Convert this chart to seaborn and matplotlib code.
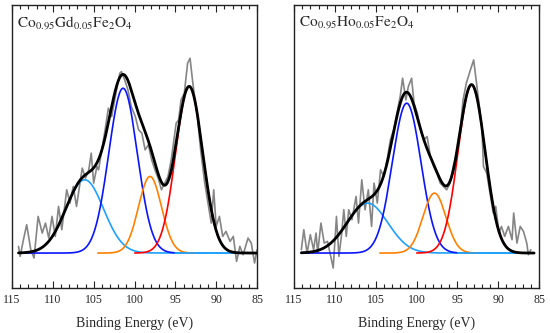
import numpy as np
import pandas as pd
import matplotlib
matplotlib.use("Agg")
import matplotlib.pyplot as plt
import seaborn as sns
from matplotlib.ticker import MultipleLocator

# ---- data ----
# measured spectra (gray), binding energy (eV) and normalised intensity
gd_energy = [114.2, 114.0, 113.6, 113.2, 112.7, 112.3, 111.8, 111.3, 110.9, 110.5,
             110.1, 109.7, 109.3, 108.9, 108.3, 107.9, 107.5, 107.1, 106.4, 106.0,
             105.6, 105.3, 105.0, 104.6, 104.4, 104.0, 103.6, 103.2, 102.8, 102.2,
             101.8, 101.6, 101.2, 100.8, 100.4, 99.9, 99.5, 99.1, 98.7, 98.3,
             97.9, 97.5, 97.1, 96.7, 96.3, 95.9, 95.5, 94.9, 94.6, 94.3,
             93.9, 93.5, 93.2, 92.9, 92.7, 92.3, 91.9, 91.4, 91.0, 90.6,
             90.3, 90.0, 89.6, 89.2, 88.8, 88.3, 87.9, 87.5, 87.1, 86.7,
             86.1, 85.7, 85.3, 85.0]
gd_counts = [0.04, -0.02, 0.08, 0.17, 0.02, -0.03, 0.22, 0.12, 0.18, 0.09,
             0.22, 0.10, 0.28, 0.14, 0.38, 0.30, 0.40, 0.28, 0.51, 0.45,
             0.50, 0.60, 0.42, 0.52, 0.50, 0.62, 0.74, 0.87, 0.82, 0.98,
             1.08, 1.09, 1.04, 0.98, 0.88, 0.82, 0.74, 0.72, 0.62, 0.65,
             0.56, 0.50, 0.45, 0.38, 0.42, 0.46, 0.56, 0.78, 0.80, 0.92,
             0.96, 1.14, 1.17, 1.04, 0.96, 0.82, 0.62, 0.42, 0.30, 0.18,
             0.38, 0.16, 0.22, 0.10, 0.13, 0.07, 0.10, -0.05, 0.04, -0.01,
             0.09, 0.06, -0.06, 0.02]

ho_energy = [114.1, 113.8, 113.4, 113.0, 112.6, 112.3, 112.1, 111.7, 111.3, 110.9,
             110.5, 110.2, 109.8, 109.5, 109.2, 108.9, 108.6, 108.3, 107.9, 107.4,
             107.1, 106.7, 106.3, 105.9, 105.5, 105.2, 104.8, 104.4, 104.0, 103.6,
             103.2, 102.8, 102.4, 102.0, 101.7, 101.3, 101.0, 100.6, 100.3, 99.9,
             99.5, 99.1, 98.7, 98.3, 97.9, 97.5, 97.1, 96.7, 96.3, 95.9,
             95.5, 95.0, 94.6, 94.3, 93.9, 93.4, 93.0, 92.7, 92.4, 92.0,
             91.8, 91.4, 91.0, 90.6, 90.3, 89.9, 89.6, 89.2, 88.75, 88.3,
             88.1, 87.7, 87.3, 86.9, 86.5, 86.3, 86.0]
ho_counts = [0.02, 0.14, 0.00, 0.11, 0.02, 0.12, 0.00, 0.18, 0.06, 0.07,
             -0.02, -0.09, 0.22, -0.02, 0.10, 0.26, 0.10, 0.26, 0.20, 0.34,
             0.18, 0.44, 0.26, 0.38, 0.16, 0.42, 0.30, 0.50, 0.46, 0.56,
             0.68, 0.74, 0.84, 0.94, 1.05, 0.92, 1.00, 1.05, 0.90, 0.84,
             0.74, 0.68, 0.70, 0.58, 0.52, 0.48, 0.42, 0.40, 0.38, 0.42,
             0.52, 0.62, 0.76, 0.92, 1.02, 1.10, 1.16, 1.04, 0.92, 0.76,
             0.52, 0.48, 0.36, 0.24, 0.28, 0.12, 0.16, 0.10, 0.16, 0.08,
             0.24, 0.06, 0.16, 0.13, 0.06, -0.01, 0.02]

# fitted components: light blue, blue, orange, red
gd_centers = [106.1, 101.4, 98.1, 93.3]
gd_heights = [0.44, 0.99, 0.46, 1.00]
gd_widths = [2.3, 1.75, 1.4, 1.65]

ho_centers = [106.0, 101.2, 97.8, 93.25]
ho_heights = [0.30, 0.90, 0.36, 1.01]
ho_widths = [2.5, 1.75, 1.4, 1.65]

comp_colors = ['#1ea0ff', '#0a14ff', '#ff8000', '#ff0000']

sns.set_style("ticks")
plt.rcParams['font.family'] = ['Liberation Serif', 'DejaVu Serif']
plt.rcParams['mathtext.fontset'] = 'stix'

fig = plt.figure(figsize=(5.5, 3.33), dpi=100)
ax1 = fig.add_axes([12 / 550, 45 / 333, 245 / 550, 283 / 333])
ax2 = fig.add_axes([294 / 550, 45 / 333, 245 / 550, 283 / 333])


def gauss(e, c, h, w):
    return h * np.exp(-(e - c) ** 2 / (2 * w ** 2))


def draw_panel(ax, energy, counts, centers, heights, widths, e_lo, e_hi, title):
    raw = pd.DataFrame({'E': energy, 'I': counts})
    sns.lineplot(data=raw, x='E', y='I', color='#858585', lw=1.2, ax=ax,
                 sort=False, zorder=1)

    grid = np.linspace(e_hi, e_lo, 600)
    comps = [gauss(grid, c, h, w) for c, h, w in zip(centers, heights, widths)]
    total = np.sum(comps, axis=0)

    # windows so the baseline colours come out like the original
    windows = [(e_lo, e_hi), (95.0, e_hi), (92.5, 104.5), (e_lo, 100.0)]
    for k, (lo, hi) in enumerate(windows):
        m = (grid >= lo) & (grid <= hi)
        sns.lineplot(x=grid[m], y=comps[k][m], color=comp_colors[k], lw=1.2,
                     ax=ax, zorder=2 + k)
    m = grid <= 95.0
    sns.lineplot(x=grid[m], y=comps[0][m], color=comp_colors[0], lw=1.2,
                 ax=ax, zorder=6)

    sns.lineplot(x=grid, y=total, color='black', lw=2.0, ax=ax, zorder=7)

    ax.set_xlim(115, 85)
    ax.set_ylim(-0.21, 1.49)
    ax.set_yticks([])
    ax.set_ylabel('')
    ax.xaxis.set_major_locator(MultipleLocator(5))
    ax.xaxis.set_minor_locator(MultipleLocator(1))
    ax.tick_params(axis='x', which='both', direction='in', top=True,
                   labelsize=8.5, pad=4, color='#222222')
    ax.tick_params(axis='x', which='major', length=5, width=0.8)
    ax.tick_params(axis='x', which='minor', length=3, width=0.8)
    for s in ax.spines.values():
        s.set_color('#222222')
        s.set_linewidth(1.0)
    ax.set_xlabel('Binding Energy (eV)', fontsize=10, labelpad=8)
    ax.text(0.02, 0.965, title, transform=ax.transAxes, fontsize=11,
            ha='left', va='top')


draw_panel(ax1, gd_energy, gd_counts, gd_centers, gd_heights, gd_widths,
           85.0, 114.2, r'$\mathrm{Co_{0.95}Gd_{0.05}Fe_2O_4}$')
draw_panel(ax2, ho_energy, ho_counts, ho_centers, ho_heights, ho_widths,
           85.6, 114.1, r'$\mathrm{Co_{0.95}Ho_{0.05}Fe_2O_4}$')

fig.savefig('out.png', dpi=100)
